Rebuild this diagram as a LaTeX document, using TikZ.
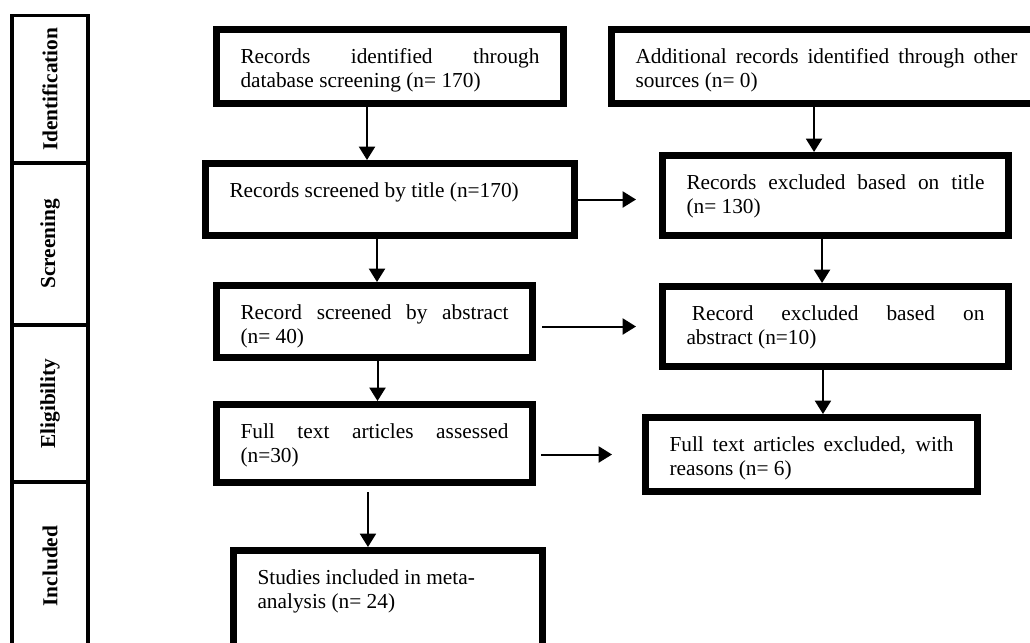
\documentclass[tikz,border=0pt]{standalone}
\usepackage{fontspec}
\setmainfont{Liberation Serif}
\usetikzlibrary{arrows.meta,positioning,calc}
\tikzset{
  prismabox/.style={draw, line width=5.25pt, inner xsep=18pt, inner ysep=0pt,
    align=justify, text height=25.5pt, anchor=north west,
    font=\fontsize{16pt}{18pt}\selectfont},
  phasebox/.style={draw, line width=2.6pt, rotate=90, inner sep=0pt, outer sep=0pt,
    minimum height=57pt, font=\fontsize{16pt}{18pt}\selectfont\bfseries},
  flowarrow/.style={line width=1.5pt, -{Triangle[length=10pt,width=12pt]}}
}
\begin{document}
\hyphenpenalty=10000
\begin{tikzpicture}[x=0.75pt, y=-0.75pt]
  \useasboundingbox (0,0) rectangle (1030,642);
  % Phase column
  \node[phasebox, minimum width=110.6pt] (ident) at (50,89.25) {Identification};
  \node[phasebox, minimum width=121.5pt] (screen) at (50,244) {Screening};
  \node[phasebox, minimum width=117.75pt] (elig) at (50,403.5) {Eligibility};
  \node[phasebox, minimum width=126pt] (incl) at (50,566) {Included};
  % Boxes
  \node[prismabox, text width=224.25pt, text depth=30pt] (recdb) at (213,26)
    {Records identified through\linebreak database screening (n= 170)};
  \node[prismabox, text width=286.5pt, text depth=30pt] (recother) at (608,26)
    {Additional records identified through other\linebreak sources (n= 0)};
  \node[prismabox, text width=240.75pt, text depth=28.5pt] (scrtitle) at (202,160)
    {Records screened by title (n=170)};
  \node[prismabox, text width=223.5pt, text depth=34.5pt] (exctitle) at (659,152)
    {Records excluded based on title\linebreak (n= 130)};
  \node[prismabox, text width=201pt, text depth=28.5pt] (scrabs) at (213,282)
    {Record screened by abstract\linebreak (n= 40)};
  \node[prismabox, text width=223.5pt, text depth=34.5pt] (excabs) at (659,283)
    {\hspace*{4pt}Record excluded based on\linebreak abstract (n=10)};
  \node[prismabox, text width=201pt, text depth=33pt] (fulltext) at (213,401)
    {Full text articles assessed\linebreak (n=30)};
  \node[prismabox, text width=213pt, text depth=30pt] (excfull) at (642,414)
    {Full text articles excluded, with\linebreak reasons (n= 6)};
  \node[prismabox, text width=195.75pt, text depth=54pt] (included) at (230,547)
    {Studies included in meta-\\analysis (n= 24)};
  % Down arrows
  \draw[flowarrow] ([xshift=-17.25pt]recdb.south) -- ([xshift=-17.25pt]recdb.south |- scrtitle.north);
  \draw[flowarrow] ([xshift=-16.1pt]exctitle.north |- recother.south) -- ([xshift=-16.1pt]exctitle.north);
  \draw[flowarrow] ([xshift=-9.75pt]scrtitle.south) -- ([xshift=-9.75pt]scrtitle.south |- scrabs.north);
  \draw[flowarrow] ([xshift=-10.1pt]exctitle.south) -- ([xshift=-10.1pt]exctitle.south |- excabs.north);
  \draw[flowarrow] ([xshift=2.25pt]scrabs.south) -- ([xshift=2.25pt]scrabs.south |- fulltext.north);
  \draw[flowarrow] ([xshift=-9.4pt]excabs.south) -- ([xshift=-9.4pt]excabs.south |- excfull.north);
  \draw[flowarrow, shorten <=4.5pt] ([xshift=-4.9pt]fulltext.south) -- ([xshift=-4.9pt]fulltext.south |- included.north);
  % Side arrows
  \draw[flowarrow, shorten >=17.25pt] (scrtitle.east) -- (scrtitle.east -| exctitle.west);
  \draw[flowarrow, shorten <=4.5pt, shorten >=17.25pt] (excabs.west -| scrabs.east) -- (excabs.west);
  \draw[flowarrow, shorten <=3.75pt, shorten >=22.5pt] (excfull.west -| fulltext.east) -- (excfull.west);
\end{tikzpicture}
\end{document}
